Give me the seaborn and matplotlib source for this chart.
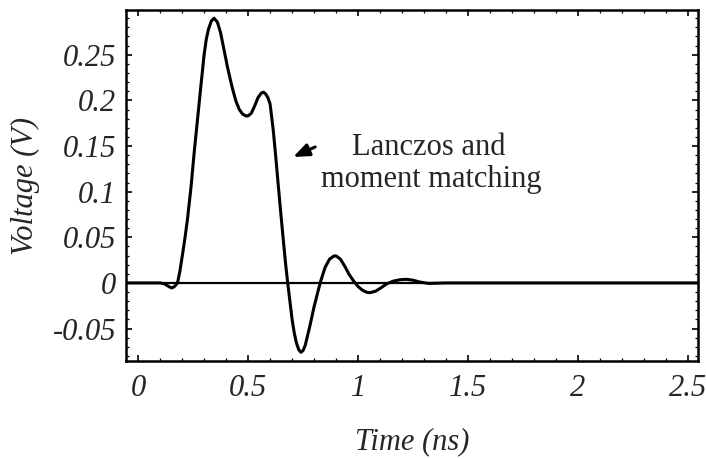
import numpy as np
import pandas as pd
import matplotlib
matplotlib.use("Agg")
import matplotlib.pyplot as plt
import seaborn as sns
from matplotlib.ticker import FixedLocator, FixedFormatter, MultipleLocator

# Transient response (time in ns, voltage in V)
time_ns = [-0.055, 0.0, 0.05, 0.10, 0.12, 0.14, 0.153, 0.165, 0.172, 0.179,
           0.19, 0.203, 0.214, 0.224, 0.241, 0.2545, 0.27, 0.285, 0.30,
           0.31, 0.32, 0.333, 0.345, 0.36, 0.375, 0.39, 0.405, 0.418, 0.43,
           0.445, 0.46, 0.475, 0.49, 0.50, 0.515, 0.53, 0.545, 0.56, 0.57,
           0.58, 0.59, 0.60, 0.614, 0.625, 0.636, 0.648, 0.66, 0.67, 0.68,
           0.69, 0.70, 0.71, 0.72, 0.73, 0.74, 0.75, 0.76, 0.78, 0.80,
           0.82, 0.83, 0.85, 0.87, 0.89, 0.90, 0.92, 0.94, 0.96, 0.98,
           1.00, 1.02, 1.04, 1.055, 1.08, 1.10, 1.13, 1.16, 1.19, 1.22,
           1.25, 1.28, 1.32, 1.40, 1.60, 2.00, 2.545]
voltage_v = [0.0, 0.0, 0.0, 0.0, -0.001, -0.004, -0.0055, -0.004, -0.002, 0.0,
             0.013, 0.033, 0.051, 0.069, 0.106, 0.142, 0.179, 0.215, 0.250,
             0.267, 0.278, 0.287, 0.290, 0.286, 0.274, 0.256, 0.238, 0.224, 0.212,
             0.199, 0.190, 0.185, 0.183, 0.183, 0.186, 0.194, 0.203, 0.208, 0.209,
             0.207, 0.203, 0.196, 0.168, 0.140, 0.110, 0.078, 0.047, 0.022, 0.0,
             -0.020, -0.040, -0.055, -0.066, -0.073, -0.076, -0.074, -0.068, -0.048, -0.026,
             -0.007, 0.002, 0.017, 0.026, 0.0295, 0.0296, 0.026, 0.018, 0.009, 0.002,
             -0.004, -0.008, -0.0103, -0.0106, -0.009, -0.006, -0.001, 0.002, 0.0035, 0.004,
             0.003, 0.001, -0.0005, 0.0, 0.0, 0.0, 0.0]

x_ticks = [0, 0.5, 1, 1.5, 2, 2.5]
x_tick_labels = ["0", "0.5", "1", "1.5", "2", "2.5"]
y_ticks = [-0.05, 0, 0.05, 0.1, 0.15, 0.2, 0.25]
y_tick_labels = ["-0.05", "0", "0.05", "0.1", "0.15", "0.2", "0.25"]

df = pd.DataFrame({"Time": time_ns, "Voltage": voltage_v})

sns.set_style("white")
plt.rcParams["font.family"] = ["Liberation Serif", "DejaVu Serif"]

fig = plt.figure(figsize=(7.06, 4.59), dpi=100)
ax = fig.add_axes([126 / 706, 1 - 361 / 459, 572 / 706, 351 / 459])

# zero reference line
ax.axhline(0, color="black", lw=1.6, zorder=1)
sns.lineplot(data=df, x="Time", y="Voltage", ax=ax, color="black",
             lw=2.2, sort=False, zorder=2)

ax.set_xlim(-0.055, 2.545)
ax.set_ylim(-0.0855, 0.299)

for s in ax.spines.values():
    s.set_visible(True)
    s.set_color("black")
    s.set_linewidth(1.8)

ax.xaxis.set_major_locator(FixedLocator(x_ticks))
ax.xaxis.set_major_formatter(FixedFormatter(x_tick_labels))
ax.yaxis.set_major_locator(FixedLocator(y_ticks))
ax.yaxis.set_major_formatter(FixedFormatter(y_tick_labels))
ax.xaxis.set_minor_locator(MultipleLocator(0.1))
ax.yaxis.set_minor_locator(MultipleLocator(0.01))

ax.tick_params(which="both", direction="in", top=True, right=True,
               bottom=True, left=True, color="black")
ax.tick_params(which="major", length=4, width=1.2)
ax.tick_params(which="minor", length=2, width=0.9)
ax.tick_params(axis="x", which="major", pad=9)
ax.tick_params(axis="y", which="major", pad=7)
for lab in ax.get_xticklabels() + ax.get_yticklabels():
    lab.set_fontstyle("italic")
    lab.set_fontsize(22)

ax.set_xlabel("Time (ns)", fontsize=22, fontstyle="italic")
ax.set_ylabel("Voltage (V)", fontsize=22, fontstyle="italic")
ax.xaxis.label.set_va("center")
ax.yaxis.label.set_va("center")
ax.xaxis.set_label_coords(0.5, (361 - 442) / 351)
ax.yaxis.set_label_coords((25 - 126) / 572, 0.5)

# curve annotation
ax.annotate("", xy=(0.705, 0.138), xytext=(0.805, 0.149),
            arrowprops=dict(arrowstyle="-|>,head_length=0.95,head_width=0.38",
                            color="black", lw=2.2, shrinkA=0, shrinkB=0))
ax.text(1.323, 0.148, "Lanczos and", fontsize=22, ha="center", va="center")
ax.text(1.332, 0.113, "moment matching", fontsize=22, ha="center", va="center")

fig.savefig("out.png", dpi=100)
